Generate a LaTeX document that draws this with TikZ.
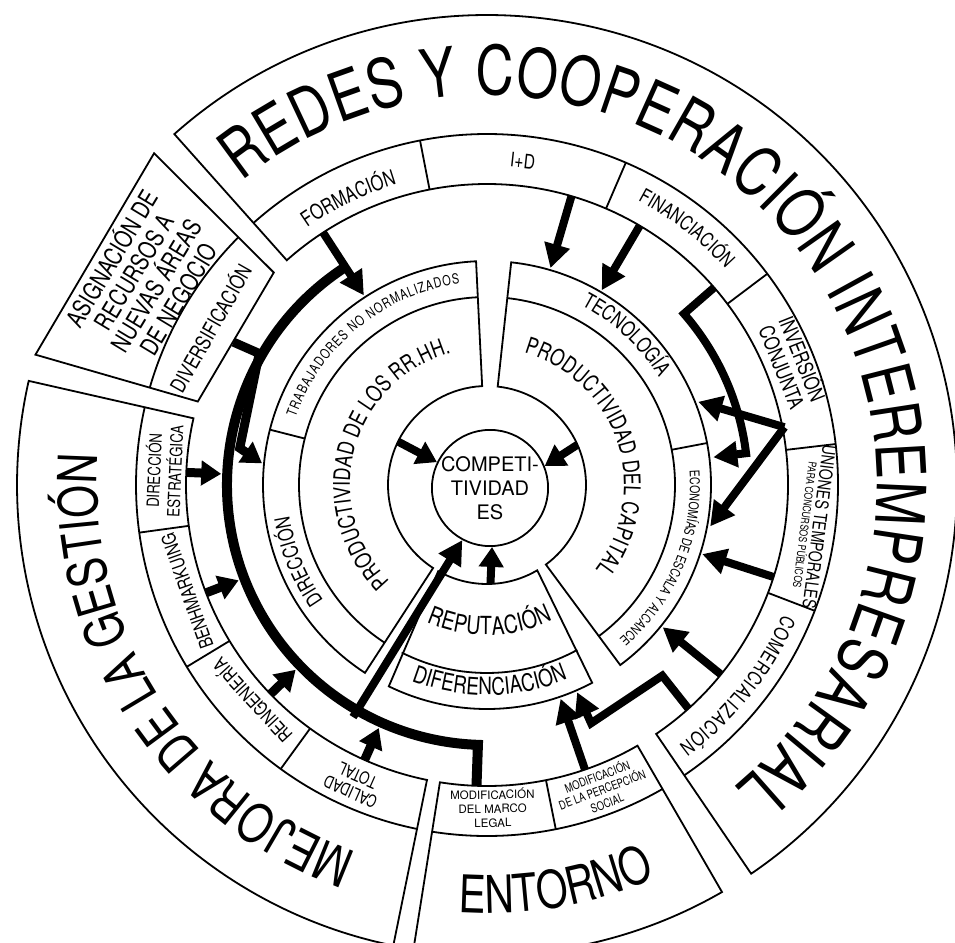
\documentclass[tikz,border=0pt]{standalone}
\usepackage{fontspec}
\setmainfont{TeX Gyre Heros}
\newfontfamily\cond{TeX Gyre Heros}[FakeStretch=0.78]
\usetikzlibrary{arrows.meta, decorations.text}
\tikzset{
  ring/.style    = {draw, line width=1.8pt},
  lbl/.style     = {inner sep=0pt, align=center},
  flow/.style    = {line width=8pt, line join=miter, -{Triangle[length=24pt, width=25pt]}},
  stub/.style    = {line width=9pt, line join=miter, -{Triangle[length=20pt, width=24pt]}},
  core/.style    = {line width=8pt, -{Triangle[length=20pt, width=24pt]}},
  bus/.style     = {line width=10pt, line join=miter},
  on arc/.style  = {decorate, decoration={text along path, text align=center, text={#1}}},
  fit arc/.style = {decorate, decoration={text along path, text align=fit to path, text={#1}}},
}

\begin{document}
\begin{tikzpicture}
  \useasboundingbox (-487pt,-457pt) rectangle (468pt,485pt);
  % outer ring: redes y cooperacion
  \draw[ring] (-55.8:301pt) arc[start angle=-55.8, end angle=131.7, radius=301pt]
    -- (131.7:470pt) arc[start angle=131.7, end angle=-55.8, radius=470pt] -- cycle;
  \draw[ring] (-55.8:351pt) arc[start angle=-55.8, end angle=131.7, radius=351pt];
  \foreach \a in {101,66.7,37,6.7,-21} \draw[ring] (\a:301pt) -- (\a:351pt);
  % asignacion de recursos
  \draw[ring] (135.1:301pt) -- (135.1:470pt) -- (163.9:470pt) -- (163.9:301pt) -- cycle;
  \draw[ring] (135.1:351pt) arc[start angle=135.1, end angle=163.9, radius=351pt];
  % mejora de la gestion
  \draw[ring] (167.2:301pt) arc[start angle=167.2, end angle=258.5, radius=301pt]
    -- (258.5:470pt) arc[start angle=258.5, end angle=167.2, radius=470pt] -- cycle;
  \draw[ring] (167.2:351pt) arc[start angle=167.2, end angle=258.5, radius=351pt];
  \foreach \a in {187.8,211.2,234} \draw[ring] (\a:301pt) -- (\a:351pt);
  % entorno
  \draw[ring] (-99:301pt) arc[start angle=-99, end angle=-60, radius=301pt]
    -- (-60:470pt) arc[start angle=-60, end angle=-99, radius=470pt] -- cycle;
  \draw[ring] (-99:351pt) arc[start angle=-99, end angle=-60, radius=351pt];
  \draw[ring] (-78.7:301pt) -- (-78.7:351pt);

  % middle ring: rr.hh., capital, reputacion
  \draw[ring] (92.8:99pt) -- (92.8:224pt) arc[start angle=92.8, end angle=237, radius=224pt]
    -- (237:99pt) arc[start angle=237, end angle=92.8, radius=99pt] -- cycle;
  \draw[ring] (92.8:188pt) arc[start angle=92.8, end angle=237, radius=188pt];
  \draw[ring] (165.7:188pt) -- (165.7:224pt);
  \draw[ring] (83.8:99pt) -- (83.8:224pt) arc[start angle=83.8, end angle=-53.5, radius=224pt]
    -- (-53.5:99pt) arc[start angle=-53.5, end angle=83.8, radius=99pt] -- cycle;
  \draw[ring] (83.8:188pt) arc[start angle=83.8, end angle=-53.5, radius=188pt];
  \draw[ring] (10.8:188pt) -- (10.8:224pt);
  \draw[ring] (-119.5:99pt) -- (-116:224pt) arc[start angle=-116, end angle=-62, radius=224pt]
    -- (-59.5:99pt) arc[start angle=-59.5, end angle=-119.5, radius=99pt] -- cycle;
  \draw[ring] (-117:188pt) arc[start angle=-117, end angle=-61.3, radius=188pt];

  \node[draw, circle, line width=1.8pt, minimum size=112pt, inner sep=0pt, align=center,
        font=\fontsize{20}{24}\selectfont] (comp) at (3pt,-3pt) {COMPETI-\\TIVIDAD\\ES};

  % big titles
  \path[fit arc={|\cond\fontsize{68}{68}\selectfont|REDES Y COOPERACIÓN INTEREMPRESARIAL}]
    (129:390pt) arc[start angle=129, end angle=-50.6, radius=390pt];
  \path[on arc={|\cond\fontsize{54}{54}\selectfont|MEJORA DE LA GESTIÓN}]
    (260:390pt) arc[start angle=260, end angle=166, radius=390pt];
  \path[on arc={|\cond\fontsize{52}{52}\selectfont|ENTORNO}]
    (-100:428pt) arc[start angle=-100, end angle=-60.6, radius=428pt];

  % outer sub-boxes
  \path[on arc={|\cond\fontsize{21}{21}\selectfont|FORMACIÓN}]
    (135:314pt) arc[start angle=135, end angle=96.6, radius=314pt];
  \node[lbl, font=\cond\fontsize{20}{20}\selectfont, rotate=-6.3] (ide) at (83.7:326pt) {I+D};
  \path[on arc={|\cond\fontsize{20}{20}\selectfont|FINANCIACIÓN}]
    (72:322pt) arc[start angle=72, end angle=32.2, radius=322pt];
  \node[lbl, font=\cond\fontsize{21}{22}\selectfont, rotate=-68.2] (inver) at (21.8:330pt)
    {INVERSIÓN\\CONJUNTA};
  \node[lbl, rotate=-97.2] (uniones) at (-7.2:329pt)
    {{\cond\fontsize{18}{19}\selectfont UNIONES TEMPORALES}\\
     {\cond\fontsize{11}{12}\selectfont PARA CONCURSOS PÚBLICOS}};
  \path[fit arc={|\cond\fontsize{20}{20}\selectfont|COMERCIALIZACIÓN}]
    (-23.7:323pt) arc[start angle=-23.7, end angle=-53.6, radius=323pt];
  \node[lbl, font=\cond\fontsize{25}{26}\selectfont, rotate=58.9] (asig) at (148.9:401pt)
    {ASIGNACIÓN DE\\RECURSOS A\\NUEVAS ÁREAS\\DE NEGOCIO};
  \node[lbl, font=\cond\fontsize{21}{21}\selectfont, rotate=60.5] (divers) at (150.5:319pt)
    {DIVERSIFICACIÓN};
  \node[lbl, font=\cond\fontsize{17}{21}\selectfont, rotate=87.5] (direst) at (177.5:324pt)
    {DIRECCIÓN\\ESTRATÉGICA};
  \node[lbl, font=\cond\fontsize{19}{19}\selectfont, rotate=109.5] (benh) at (199.5:318pt)
    {BENHMARKUING};
  \node[lbl, font=\cond\fontsize{19}{19}\selectfont, rotate=132.6] (reing) at (222.6:320pt)
    {REINGENIERÍA};
  \node[lbl, font=\cond\fontsize{17}{18}\selectfont, rotate=156] (calidad) at (246:327pt)
    {CALIDAD\\TOTAL};
  \node[lbl, font=\fontsize{11.5}{14}\selectfont, rotate=1] (legal) at (-89:323pt)
    {MODIFICACIÓN\\DEL MARCO\\LEGAL};
  \node[lbl, font=\cond\fontsize{12}{14}\selectfont, rotate=20.7] (percep) at (-69.3:325pt)
    {MODIFICACIÓN\\DE LA PERCEPCIÓN\\SOCIAL};

  % middle ring labels
  \path[fit arc={|\cond\fontsize{14}{14}\selectfont|TRABAJADORES NO NORMALIZADOS}]
    (160.5:203pt) arc[start angle=160.5, end angle=97.7, radius=203pt];
  \path[on arc={|\cond\fontsize{21}{21}\selectfont|DIRECCIÓN}]
    (222:200pt) arc[start angle=222, end angle=182, radius=200pt];
  \path[on arc={|\cond\fontsize{21}{21}\selectfont|TECNOLOGÍA}]
    (67:203pt) arc[start angle=67, end angle=27.3, radius=203pt];
  \path[on arc={|\cond\fontsize{13.5}{13.5}\selectfont|ECONOMÍAS DE ESCALA Y ALCANCE}]
    (20:203pt) arc[start angle=20, end angle=-65.4, radius=203pt];
  \path[on arc={|\cond\fontsize{23}{23}\selectfont|PRODUCTIVIDAD DE LOS RR.HH.}]
    (240:137pt) arc[start angle=240, end angle=90, radius=137pt];
  \path[on arc={|\cond\fontsize{23}{23}\selectfont|PRODUCTIVIDAD DEL CAPITAL}]
    (85:137pt) arc[start angle=85, end angle=-48.6, radius=137pt];
  \path[fit arc={|\cond\fontsize{25}{25}\selectfont|REPUTACIÓN}]
    (-113.8:150pt) arc[start angle=-113.8, end angle=-64.1, radius=150pt];
  \path[on arc={|\cond\fontsize{24}{24}\selectfont|DIFERENCIACIÓN}]
    (-115:210pt) arc[start angle=-115, end angle=-63.5, radius=210pt];

  % flow end points
  \coordinate (form1) at (123:301pt);   \coordinate (form2) at (123:226pt);
  \coordinate (ide1) at (73.7:301pt);   \coordinate (ide2) at (73.7:226pt);
  \coordinate (fin1) at (59.5:301pt);   \coordinate (fin2) at (59.5:226pt);
  \coordinate (finA) at (41:301pt);     \coordinate (finK) at (41:261pt);
  \coordinate (finB) at (7:228pt);
  \coordinate (inv) at (11:303pt);
  \coordinate (inv1) at (21.5:227pt);   \coordinate (inv2) at (-10.5:227pt);
  \coordinate (uni1) at (-17.8:301pt);  \coordinate (uni2) at (-17.8:226pt);
  \coordinate (com1) at (-39:301pt);    \coordinate (com2) at (-39:226pt);
  \coordinate (comA) at (-48:301pt);    \coordinate (comK) at (-47.4:259pt);
  \coordinate (comL) at (-66.4:260pt);  \coordinate (comB) at (-66.5:226pt);
  \coordinate (perc1) at (-71:301pt);   \coordinate (perc2) at (-71:226pt);
  \coordinate (busA) at (123.5:260pt);  \coordinate (busB) at (268:301pt);
  \coordinate (dir1) at (177.6:301pt);  \coordinate (dir2) at (177.6:266pt);
  \coordinate (ben1) at (201:301pt);    \coordinate (ben2) at (201:266pt);
  \coordinate (rei1) at (224:301pt);    \coordinate (rei2) at (224:266pt);
  \coordinate (cal1) at (246:301pt);    \coordinate (cal2) at (246:266pt);
  \coordinate (divA) at (150.6:291pt);  \coordinate (divK) at (150:263pt);
  \coordinate (divL) at (171.5:250pt);  \coordinate (divB) at (174.5:226pt);
  \coordinate (diag) at (240:268pt);
  \coordinate (hh) at (154:99pt);  \coordinate (cap) at (24:99pt);  \coordinate (rep) at (-88:99pt);

  % flows
  \draw[bus] (busA) arc[start angle=123.5, end angle=268, radius=260pt] -- (busB);
  \draw[flow] (form1) -- (form2);
  \draw[flow] (ide1) -- (ide2);
  \draw[flow] (fin1) -- (fin2);
  \draw[flow] (finA) -- (finK) arc[start angle=41, end angle=7, radius=261pt] -- (finB);
  \draw[flow] (inv) -- (inv1);
  \draw[flow] (inv) -- (inv2);
  \draw[flow] (uni1) -- (uni2);
  \draw[flow] (com1) -- (com2);
  \draw[flow] (comA) -- (comK) -- (comL) -- (comB);
  \draw[flow] (perc1) -- (perc2);
  \draw[stub] (divA) -- (divK) -- (divL) -- (divB);
  \draw[stub] (dir1) -- (dir2);
  \draw[stub] (ben1) -- (ben2);
  \draw[stub] (rei1) -- (rei2);
  \draw[stub] (cal1) -- (cal2);
  \draw[flow] (diag) -- (comp.-118);
  \draw[core] (hh) -- (comp.154);
  \draw[core] (cap) -- (comp.22);
  \draw[core] (rep) -- (comp.-88);
\end{tikzpicture}
\end{document}
